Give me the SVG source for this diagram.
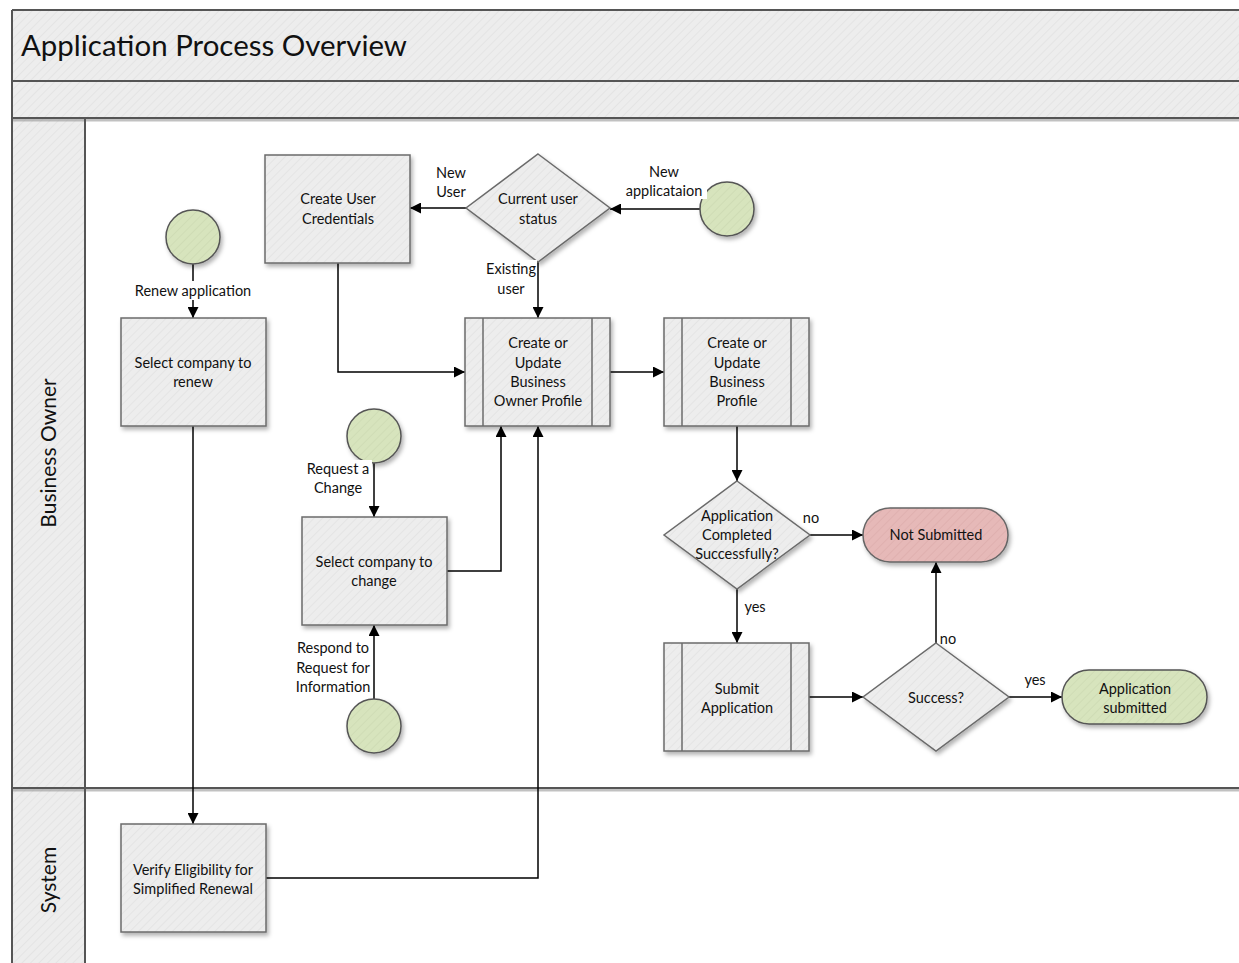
<svg xmlns="http://www.w3.org/2000/svg" width="1239" height="963" viewBox="0 0 1239 963">
  <defs>
    <pattern id="hatch" width="6" height="6" patternUnits="userSpaceOnUse" patternTransform="rotate(45)">
      <rect width="6" height="6" fill="#ededed"/>
      <line x1="0" y1="0" x2="0" y2="6" stroke="#e4e4e4" stroke-width="2"/>
    </pattern>
    <pattern id="hatchGreen" width="6" height="6" patternUnits="userSpaceOnUse" patternTransform="rotate(45)">
      <rect width="6" height="6" fill="#d7e4bd"/>
      <line x1="0" y1="0" x2="0" y2="6" stroke="#cfdcb5" stroke-width="2"/>
    </pattern>
    <pattern id="hatchRed" width="6" height="6" patternUnits="userSpaceOnUse" patternTransform="rotate(45)">
      <rect width="6" height="6" fill="#e6b9b8"/>
      <line x1="0" y1="0" x2="0" y2="6" stroke="#dfb0af" stroke-width="2"/>
    </pattern>
    <filter id="shadow" x="-20%" y="-20%" width="140%" height="140%">
      <feDropShadow dx="2" dy="3" stdDeviation="2" flood-color="#000" flood-opacity="0.3"/>
    </filter>
    <marker id="arrow" viewBox="0 0 10 10" refX="10" refY="5" markerWidth="11" markerHeight="11" markerUnits="userSpaceOnUse" orient="auto">
      <path d="M0,0 L10,5 L0,10 Z" fill="#000"/>
    </marker>
  </defs>
  <style>
    .frame { stroke: #555; stroke-width: 2; fill: none; }
    .box { fill: url(#hatch); stroke: #6b6b6b; stroke-width: 1.5; filter: url(#shadow); }
    .start { fill: url(#hatchGreen); stroke: #555; stroke-width: 1.5; filter: url(#shadow); }
    .bad { fill: url(#hatchRed); stroke: #666; stroke-width: 1.5; filter: url(#shadow); }
    .inner { stroke: #6b6b6b; stroke-width: 1.5; fill: none; }
    .t { font-family: Lato, "Liberation Sans", sans-serif; font-size: 14.5px; fill: #111; text-anchor: middle; }
    .lbl { font-family: Lato, "Liberation Sans", sans-serif; font-size: 14.5px; fill: #111; text-anchor: middle; }
    .lane { font-family: Lato, "Liberation Sans", sans-serif; font-size: 21px; fill: #111; text-anchor: middle; }
    .edge { stroke: #000; stroke-width: 1.5; fill: none; }
    .bg { fill: #fff; }
  </style>

  <!-- pool frame -->
  <g id="pool">
    <rect x="12" y="10" width="1240" height="108" fill="url(#hatch)"/>
    <rect x="12" y="118" width="73" height="860" fill="url(#hatch)"/>
    <rect x="85" y="118" width="1160" height="860" fill="#fff"/>
    <line x1="12" y1="120" x2="1239" y2="120" stroke="#999" stroke-width="3" opacity="0.6"/>
    <line x1="12" y1="790" x2="1239" y2="790" stroke="#999" stroke-width="3" opacity="0.6"/>
    <line class="frame" x1="12" y1="10" x2="1239" y2="10"/>
    <line class="frame" x1="12" y1="10" x2="12" y2="963"/>
    <line class="frame" x1="12" y1="81" x2="1239" y2="81"/>
    <line class="frame" x1="12" y1="118" x2="1239" y2="118"/>
    <line class="frame" x1="85" y1="118" x2="85" y2="963"/>
    <line class="frame" x1="12" y1="788" x2="1239" y2="788"/>
    <text x="21" y="56" font-family="Lato, 'Liberation Sans', sans-serif" font-size="29" fill="#111" textLength="386" lengthAdjust="spacingAndGlyphs">Application Process Overview</text>
    <text class="lane" transform="translate(56,453) rotate(-90)">Business Owner</text>
    <text class="lane" transform="translate(56,880) rotate(-90)">System</text>
  </g>

  <!-- connectors -->
  <g id="connectors">
    <path class="edge" d="M193,264 V318" marker-end="url(#arrow)"/>
    <path class="edge" d="M193,426 V824" marker-end="url(#arrow)"/>
    <path class="edge" d="M266,878 H538 V426" marker-end="url(#arrow)"/>
    <path class="edge" d="M466,208 H410" marker-end="url(#arrow)"/>
    <path class="edge" d="M700,209 H610" marker-end="url(#arrow)"/>
    <path class="edge" d="M538,262 V318" marker-end="url(#arrow)"/>
    <path class="edge" d="M338,263 V372 H465" marker-end="url(#arrow)"/>
    <path class="edge" d="M610,372 H664" marker-end="url(#arrow)"/>
    <path class="edge" d="M737,426 V481" marker-end="url(#arrow)"/>
    <path class="edge" d="M810,535 H863" marker-end="url(#arrow)"/>
    <path class="edge" d="M737,589 V643" marker-end="url(#arrow)"/>
    <path class="edge" d="M809,697 H863" marker-end="url(#arrow)"/>
    <path class="edge" d="M936,643 V562" marker-end="url(#arrow)"/>
    <path class="edge" d="M1009,697 H1062" marker-end="url(#arrow)"/>
    <path class="edge" d="M374,463 V517" marker-end="url(#arrow)"/>
    <path class="edge" d="M447,571 H501 V426" marker-end="url(#arrow)"/>
    <path class="edge" d="M374,699 V625" marker-end="url(#arrow)"/>
  </g>

  <!-- nodes -->
  <g id="start-renew">
    <circle class="start" cx="193" cy="237" r="27"/>
  </g>
  <g id="select-renew">
    <rect class="box" x="121" y="318" width="145" height="108"/>
    <text class="t" x="193" y="368">Select company to</text>
    <text class="t" x="193" y="387">renew</text>
  </g>
  <g id="verify">
    <rect class="box" x="121" y="824" width="145" height="108"/>
    <text class="t" x="193" y="875" font-size="14">Verify Eligibility for</text>
    <text class="t" x="193" y="894" font-size="14">Simplified Renewal</text>
  </g>
  <g id="create-credentials">
    <rect class="box" x="265" y="155" width="145" height="108"/>
    <text class="t" x="338" y="204">Create User</text>
    <text class="t" x="338" y="224">Credentials</text>
  </g>
  <g id="user-status">
    <polygon class="box" points="538,154 610,208 538,262 466,208"/>
    <text class="t" x="538" y="204">Current user</text>
    <text class="t" x="538" y="224">status</text>
  </g>
  <g id="start-new">
    <circle class="start" cx="727" cy="209" r="27"/>
  </g>
  <g id="owner-profile">
    <rect class="box" x="465" y="318" width="145" height="108"/>
    <line class="inner" x1="483" y1="318" x2="483" y2="426"/>
    <line class="inner" x1="592" y1="318" x2="592" y2="426"/>
    <text class="t" x="538" y="348">Create or</text>
    <text class="t" x="538" y="368">Update</text>
    <text class="t" x="538" y="387">Business</text>
    <text class="t" x="538" y="406">Owner Profile</text>
  </g>
  <g id="business-profile">
    <rect class="box" x="664" y="318" width="145" height="108"/>
    <line class="inner" x1="682" y1="318" x2="682" y2="426"/>
    <line class="inner" x1="791" y1="318" x2="791" y2="426"/>
    <text class="t" x="737" y="348">Create or</text>
    <text class="t" x="737" y="368">Update</text>
    <text class="t" x="737" y="387">Business</text>
    <text class="t" x="737" y="406">Profile</text>
  </g>
  <g id="completed">
    <polygon class="box" points="737,481 810,535 737,589 664,535"/>
    <text class="t" x="737" y="521">Application</text>
    <text class="t" x="737" y="540">Completed</text>
    <text class="t" x="737" y="559">Successfully?</text>
  </g>
  <g id="not-submitted">
    <rect class="bad" x="863" y="508" width="145" height="54" rx="27"/>
    <text class="t" x="936" y="540">Not Submitted</text>
  </g>
  <g id="submit">
    <rect class="box" x="664" y="643" width="145" height="108"/>
    <line class="inner" x1="682" y1="643" x2="682" y2="751"/>
    <line class="inner" x1="791" y1="643" x2="791" y2="751"/>
    <text class="t" x="737" y="694">Submit</text>
    <text class="t" x="737" y="713">Application</text>
  </g>
  <g id="success">
    <polygon class="box" points="936,643 1009,697 936,751 863,697"/>
    <text class="t" x="936" y="703">Success?</text>
  </g>
  <g id="submitted">
    <rect class="start" x="1062" y="670" width="145" height="54" rx="27"/>
    <text class="t" x="1135" y="694">Application</text>
    <text class="t" x="1135" y="713">submitted</text>
  </g>
  <g id="start-change">
    <circle class="start" cx="374" cy="436" r="27"/>
  </g>
  <g id="select-change">
    <rect class="box" x="302" y="517" width="145" height="108"/>
    <text class="t" x="374" y="567">Select company to</text>
    <text class="t" x="374" y="586">change</text>
  </g>
  <g id="start-respond">
    <circle class="start" cx="374" cy="726" r="27"/>
  </g>

  <!-- connector labels -->
  <g id="labels">
    <rect class="bg" x="132" y="281" width="123" height="19"/>
    <text class="lbl" x="193" y="296">Renew application</text>
    <text class="lbl" x="451" y="178">New</text>
    <text class="lbl" x="451" y="197">User</text>
    <rect class="bg" x="621" y="181" width="86" height="18"/>
    <text class="lbl" x="664" y="177">New</text>
    <text class="lbl" x="664" y="196">applicataion</text>
    <rect class="bg" x="485" y="260" width="52" height="18"/>
    <text class="lbl" x="511" y="274">Existing</text>
    <text class="lbl" x="511" y="294">user</text>
    <text class="lbl" x="811" y="523">no</text>
    <text class="lbl" x="755" y="612">yes</text>
    <text class="lbl" x="948" y="644">no</text>
    <text class="lbl" x="1035" y="685">yes</text>
    <rect class="bg" x="305" y="460" width="67" height="18"/>
    <text class="lbl" x="338" y="474">Request a</text>
    <text class="lbl" x="338" y="493">Change</text>
    <text class="lbl" x="333" y="653">Respond to</text>
    <text class="lbl" x="333" y="673">Request for</text>
    <text class="lbl" x="333" y="692">Information</text>
  </g>
</svg>
